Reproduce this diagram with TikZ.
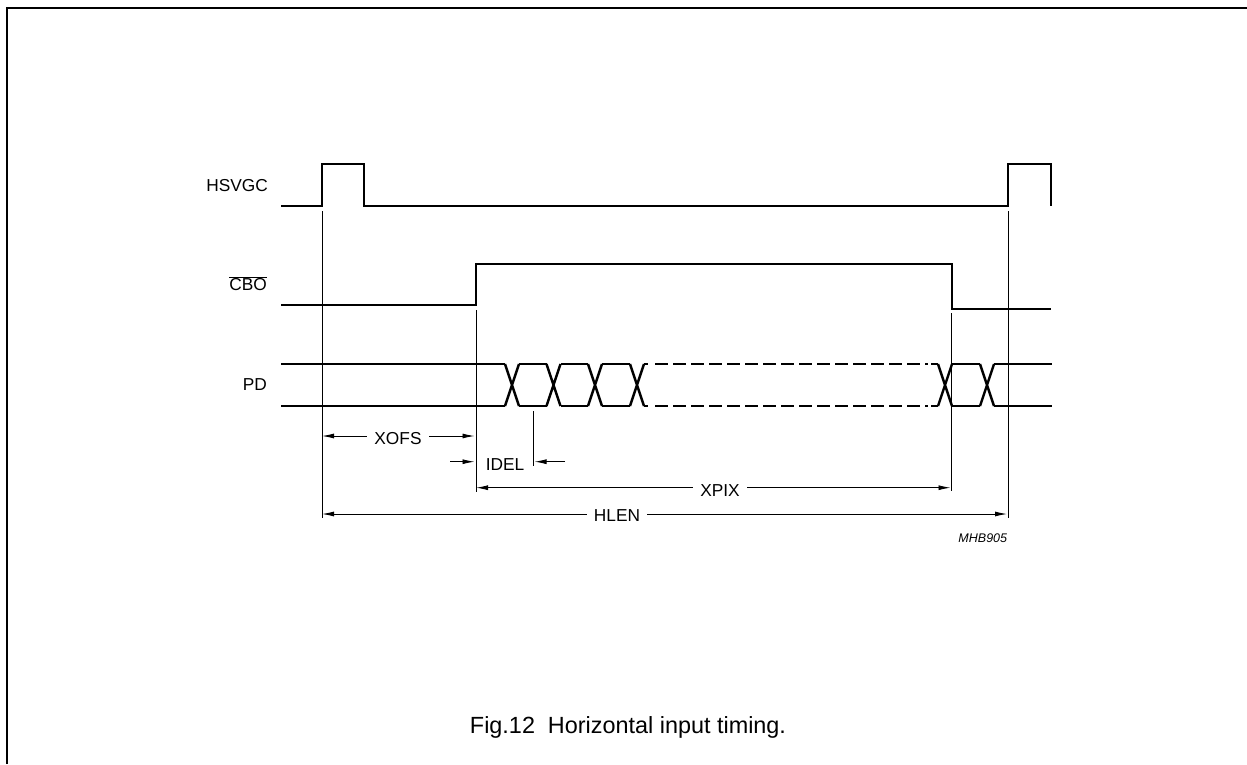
\documentclass[tikz,border=0pt]{standalone}
\usepackage{fontspec}
\setmainfont{Liberation Sans}
\usetikzlibrary{arrows.meta}
\begin{document}
\begin{tikzpicture}[x=1pt,y=-1pt,font=\fontsize{17.3}{20}\selectfont,
        sig/.style={line width=2.4pt,line join=miter},
        guide/.style={line width=0.9pt},
        dimarrow/.style={line width=0.9pt,-{Latex[length=12pt,width=5pt]}},
        dimboth/.style={line width=0.9pt,{Latex[length=12pt,width=5pt]}-{Latex[length=12pt,width=5pt]}},
        dimlabel/.style={fill=white,inner xsep=7pt,inner ysep=2pt,anchor=base},
        signame/.style={anchor=base east,inner sep=0pt}]
            \useasboundingbox (0,0) rectangle (1247,764);
            \draw[line width=1.5pt] (7,764) -- (7,8) -- (1247,8);
            \node[signame] (hsvgc) at (268,191.7) {HSVGC};
            \node[signame] (cbo) at (267,290.7) {$\overline{\mbox{CBO}}$};
            \node[signame] (pd) at (267,390.7) {PD};
            \draw[sig] (281,206) -- (322,206) -- (322,164) -- (364,164) -- (364,206)
                -- (1008,206) -- (1008,164) -- (1051,164) -- (1051,206);
            \draw[sig] (281,305) -- (476,305) -- (476,264) -- (951.7,264) -- (951.7,309) -- (1051,309);
            \draw[sig] (281,364) -- (505,364) (281,406) -- (505,406);
            \foreach \c in {512,553.5,595,637,945,987}
                \draw[sig] (\c-7,364) -- (\c+7,406) (\c-7,406) -- (\c+7,364);
            \foreach \a/\b in {512/553.5,553.5/595,595/637,945/987}
                \draw[sig] (\a+7,364) -- (\b-7,364) (\a+7,406) -- (\b-7,406);
            \draw[sig] (644,364) -- (648,364) (644,406) -- (648,406);
            \draw[sig,dash pattern=on 13pt off 5pt] (655,364) -- (928,364) (655,406) -- (928,406);
            \draw[sig] (931,364) -- (938,364) (931,406) -- (938,406);
            \draw[sig] (994,364) -- (1051.7,364) (994,406) -- (1051.7,406);
            \draw[guide] (322,211) -- (322,518);
            \draw[guide] (476,310) -- (476,492);
            \draw[guide] (533,411) -- (533,466);
            \draw[guide] (951.7,313) -- (951.7,491);
            \draw[guide] (1008,211) -- (1008,518);
            \coordinate (xofsa) at (322,436);
            \coordinate (xofsb) at (474.5,436);
            \coordinate (idela) at (450,461.7);
            \coordinate (idelb) at (474.5,461.7);
            \coordinate (idelc) at (565,461.7);
            \coordinate (ideld) at (534.5,461.7);
            \coordinate (xpixa) at (476,487.7);
            \coordinate (xpixb) at (950.5,487.7);
            \coordinate (hlena) at (322,514);
            \coordinate (hlenb) at (1007,514);
            \draw[dimboth] (xofsa) -- (xofsb);
            \draw[dimarrow] (idela) -- (idelb);
            \draw[dimarrow] (idelc) -- (ideld);
            \draw[dimboth] (xpixa) -- (xpixb);
            \draw[dimboth] (hlena) -- (hlenb);
            \node[dimlabel] (xofs) at (398,444.3) {XOFS};
            \node[anchor=base,inner sep=0pt] (idel) at (505,470.7) {IDEL};
            \node[dimlabel] (xpix) at (720,496) {XPIX};
            \node[dimlabel] (hlen) at (617,521) {HLEN};
            \node[anchor=base east,inner sep=0pt,font=\fontsize{12.5}{14}\selectfont\itshape] (code) at (1007.3,542.5) {MHB905};
            \node[anchor=base,inner sep=0pt,font=\fontsize{23.4}{27}\selectfont] (caption) at (628,733.5) {Fig.12\ \ Horizontal input timing.};
        \end{tikzpicture}
\end{document}
